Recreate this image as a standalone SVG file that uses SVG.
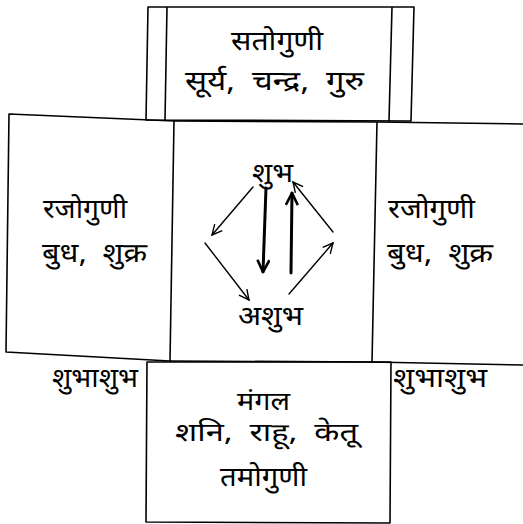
<svg xmlns="http://www.w3.org/2000/svg" width="523" height="524" viewBox="0 0 523 524">
<defs>
<style>
.ln{fill:none;stroke:#000;stroke-width:1.6;stroke-linejoin:round}
.ar{fill:none;stroke:#000;stroke-width:1.4;stroke-linecap:round}
.thk{fill:none;stroke:#000;stroke-width:3;stroke-linecap:round}
text{font-family:"Noto Sans Devanagari","Noto Sans","Lohit Devanagari",sans-serif;font-size:27px;fill:#000;white-space:pre}
.s{font-size:25px}
</style>
<marker id="ah" viewBox="0 0 12 12" refX="11" refY="6" markerWidth="12" markerHeight="12" markerUnits="userSpaceOnUse" orient="auto">
<path d="M1,1 L11,6 L1,11" fill="none" stroke="#000" stroke-width="1.4"/>
</marker>
<marker id="ahb" viewBox="0 0 14 14" refX="13" refY="7" markerWidth="14" markerHeight="14" markerUnits="userSpaceOnUse" orient="auto">
<path d="M1,1 L13,7 L1,13" fill="none" stroke="#000" stroke-width="2.6"/>
</marker>
</defs>
<rect width="523" height="524" fill="#fff"/>
<g id="top">
<path class="ln" d="M148,7 L414,7 L411,121 L146,120 Z"/>
<path class="ln" d="M167,7 L165,120 M392,7 L389,121"/>
<text x="231" y="50" textLength="92" lengthAdjust="spacingAndGlyphs">सतोगुणी</text>
<text x="185" y="90" textLength="179" lengthAdjust="spacingAndGlyphs">सूर्य,  चन्द्र,  गुरु</text>
</g>
<g id="left">
<path class="ln" d="M9,114 L174,121 L170,361 L6,352 Z"/>
<text x="43" y="218" textLength="84" lengthAdjust="spacingAndGlyphs">रजोगुणी</text>
<text x="42" y="262" textLength="105" lengthAdjust="spacingAndGlyphs">बुध,  शुक्र</text>
</g>
<g id="right">
<path class="ln" d="M377,122 L523,124 M372,362 L523,365"/>
<text x="388" y="218" textLength="87" lengthAdjust="spacingAndGlyphs">रजोगुणी</text>
<text x="387" y="262" textLength="106" lengthAdjust="spacingAndGlyphs">बुध,  शुक्र</text>
</g>
<g id="center">
<path class="ln" d="M174,121 L377,122 L372,362 L170,361"/>
<text x="252" y="182" textLength="41" lengthAdjust="spacingAndGlyphs">शुभ</text>
<text x="238" y="325" textLength="65" lengthAdjust="spacingAndGlyphs">अशुभ</text>
</g>
<g id="bottom">
<path class="ln" d="M147,362 L391,362 L390,523 L146,522 Z"/>
<text class="s" x="237" y="410" textLength="53" lengthAdjust="spacingAndGlyphs">मंगल</text>
<text class="s" x="175" y="441" textLength="183" lengthAdjust="spacingAndGlyphs">शनि,  राहू,  केतू</text>
<text x="220" y="486" textLength="87" lengthAdjust="spacingAndGlyphs">तमोगुणी</text>
</g>
<g id="labels">
<text x="52" y="387" textLength="86" lengthAdjust="spacingAndGlyphs">शुभाशुभ</text>
<text x="393" y="387" textLength="94" lengthAdjust="spacingAndGlyphs">शुभाशुभ</text>
</g>
<g id="connectors">
<path class="ar" d="M253,187 L212,235" marker-end="url(#ah)"/>
<path class="ar" d="M205,243 L249,300" marker-end="url(#ah)"/>
<path class="thk" d="M266,188 L263,272" marker-end="url(#ahb)"/>
<path class="thk" d="M291,273 L292,193" marker-end="url(#ahb)"/>
<path class="ar" d="M289,294 L333,243" marker-end="url(#ah)"/>
<path class="ar" d="M333,232 L293,182" marker-end="url(#ah)"/>
</g>
</svg>
